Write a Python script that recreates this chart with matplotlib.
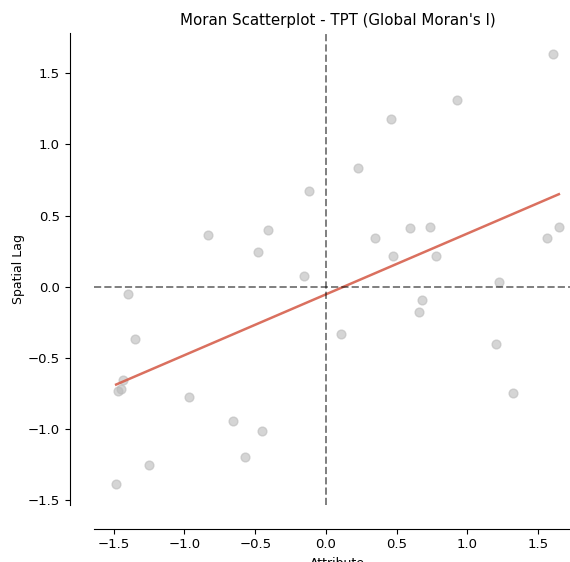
import numpy as np
import matplotlib
matplotlib.use("Agg")
import matplotlib.pyplot as plt

attribute = [1.608, 0.924, 0.463, 0.223, -0.120, 0.346, 0.595, 0.736, 0.477, 0.780,
             1.559, 1.646, -0.157, 1.222, -0.837, -0.407, -0.480, -1.398, -1.347, -1.436,
             -1.448, -1.472, -0.968, -0.658, -0.451, -0.569, -1.250, -1.483, 0.677, 0.658,
             0.104, 1.201, 1.324]
spatial_lag = [1.632, 1.311, 1.181, 0.835, 0.671, 0.346, 0.414, 0.417, 0.220, 0.220,
               0.346, 0.421, 0.073, 0.035, 0.363, 0.400, 0.245, -0.053, -0.369, -0.654,
               -0.715, -0.734, -0.774, -0.944, -1.012, -1.192, -1.250, -1.381, -0.095, -0.177,
               -0.330, -0.404, -0.748]

title = "Moran Scatterplot - TPT (Global Moran's I)"

x = np.array(attribute)
y = np.array(spatial_lag)
slope, intercept = np.polyfit(x, y, 1)

fig = plt.figure(figsize=(5.70, 5.62), dpi=100)
ax = fig.add_axes([94/570, 57/562, 487/570, 472/562])

ax.scatter(x, y, color='#bababa', alpha=0.6, s=40)
xs = np.array([x.min(), x.max()])
ax.plot(xs, intercept + slope * xs, color='#d6604d', alpha=0.9, linewidth=1.8)
ax.axvline(0, alpha=0.5, color='k', linestyle='--', linewidth=1.4)
ax.axhline(0, alpha=0.5, color='k', linestyle='--', linewidth=1.4)

ax.spines['left'].set_position(('axes', -0.05))
ax.spines['bottom'].set_position(('axes', -0.05))
ax.spines['right'].set_color('none')
ax.spines['top'].set_color('none')
ax.tick_params(labelsize=9.5)

ax.set_xlabel('Attribute', fontsize=9)
ax.set_ylabel('Spatial Lag', fontsize=9, labelpad=2)
ax.set_title(title, fontsize=10.8)

fig.savefig('out.png', dpi=100)
